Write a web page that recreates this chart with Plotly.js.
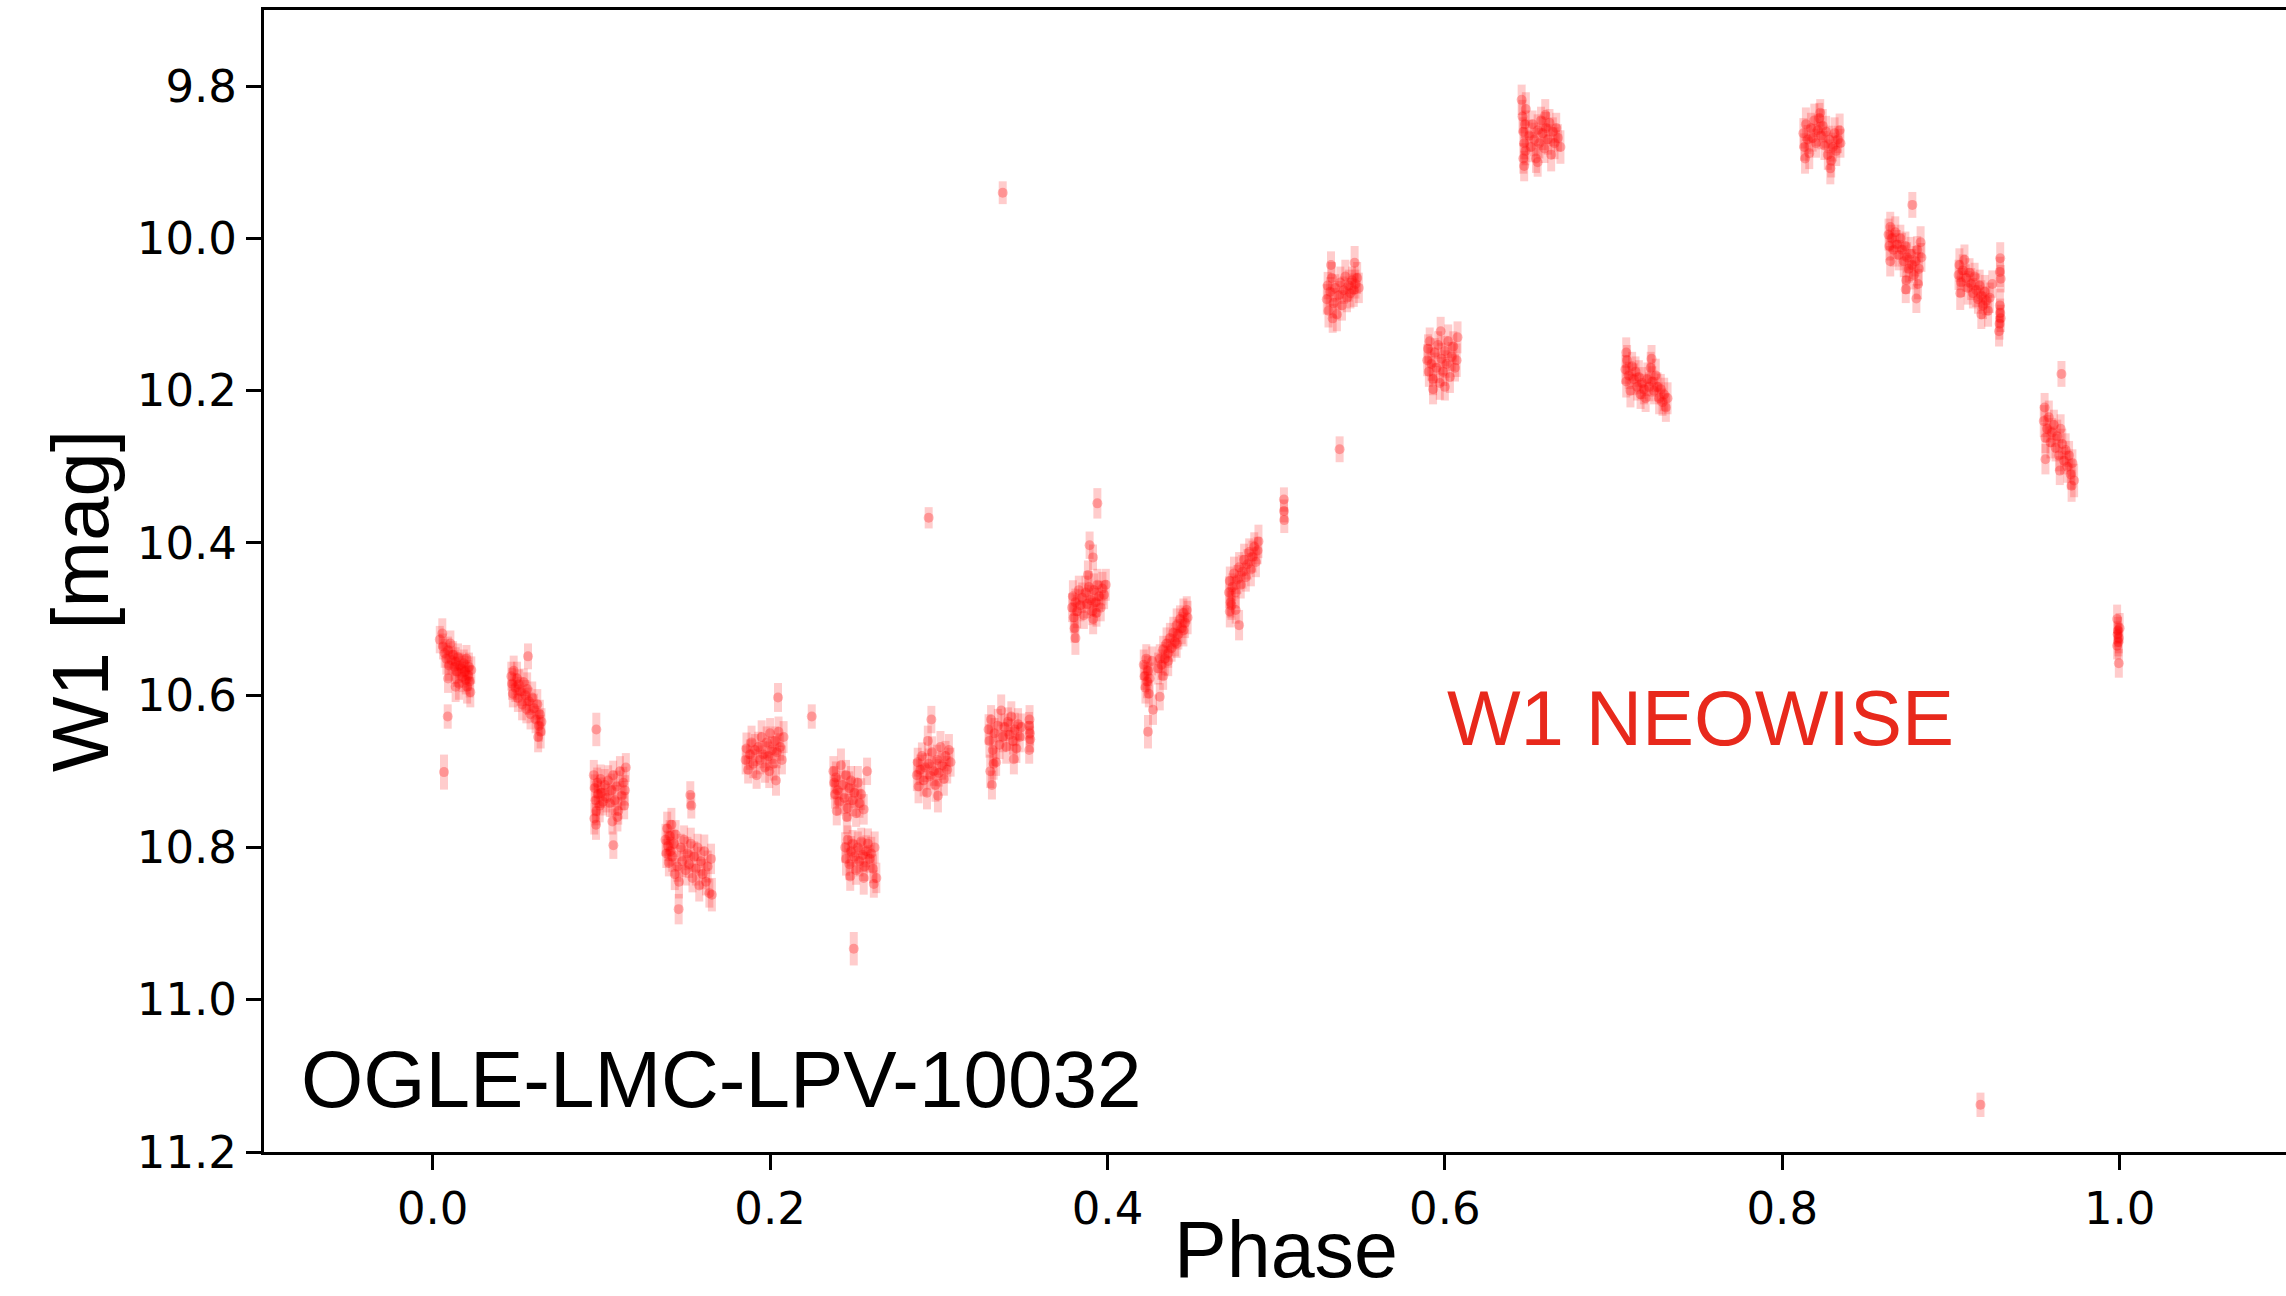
<!DOCTYPE html>
<html>
<head>
<meta charset="utf-8">
<script src="https://cdn.plot.ly/plotly-3.0.1.min.js"></script>
<style>html,body{margin:0;padding:0;background:#fff;}#chart{width:2286px;height:1296px;}</style>
</head>
<body>
<div id="chart"></div>
<script>
// Phase-folded NEOWISE W1 light curve of OGLE-LMC-LPV-10032
const phase = [
  // visit 1
  0.0042,0.0057,0.0061,0.0071,0.0081,0.0091,0.0097,0.0105,0.0111,0.0121,0.0130,0.0136,0.0144,0.0150,0.0156,0.0160,0.0170,0.0176,0.0184,0.0190,0.0196,0.0200,0.0204,0.0210,0.0215,0.0219,0.0223,0.0229,0.0091,0.0136,0.0089,0.0067,
  // visit 2
  0.0466,0.0470,0.0475,0.0480,0.0490,0.0500,0.0505,0.0510,0.0520,0.0530,0.0540,0.0550,0.0555,0.0560,0.0570,0.0580,0.0590,0.0600,0.0610,0.0620,0.0630,0.0635,0.0640,0.0645,0.0625,0.0565,
  // visit 3
  0.0955,0.0960,0.0965,0.0970,0.0975,0.0980,0.0990,0.0995,0.1000,0.1010,0.1020,0.1030,0.1040,0.1050,0.1060,0.1070,0.1080,0.1090,0.1100,0.1110,0.1120,0.1130,0.1135,0.1140,0.1145,0.0958,0.0968,0.1095,0.0970,0.1065,0.1071,
  // visit 4
  0.1380,0.1385,0.1390,0.1395,0.1400,0.1405,0.1410,0.1415,0.1420,0.1430,0.1435,0.1440,0.1450,0.1460,0.1470,0.1480,0.1490,0.1500,0.1510,0.1520,0.1530,0.1540,0.1550,0.1560,0.1570,0.1580,0.1590,0.1600,0.1610,0.1620,0.1630,0.1640,0.1650,0.1655,0.1527,0.1533,0.1458,
  // visit 5
  0.1855,0.1860,0.1870,0.1880,0.1890,0.1900,0.1910,0.1920,0.1930,0.1940,0.1950,0.1960,0.1970,0.1980,0.1990,0.2000,0.2010,0.2020,0.2030,0.2040,0.2050,0.2060,0.2070,0.2080,0.2035,0.1995,0.2047,0.2247,
  // visit 6 (two groups)
  0.2375,0.2380,0.2385,0.2390,0.2400,0.2410,0.2420,0.2430,0.2440,0.2450,0.2460,0.2470,0.2480,0.2490,0.2500,0.2510,0.2520,0.2530,0.2540,0.2555,0.2575,0.2455,0.2395,
  0.2445,0.2450,0.2460,0.2470,0.2480,0.2490,0.2500,0.2510,0.2520,0.2530,0.2540,0.2550,0.2560,0.2570,0.2580,0.2590,0.2600,0.2610,0.2620,0.2630,0.2615,0.2555,0.2475,0.2496,
  // visit 7
  0.2870,0.2875,0.2880,0.2890,0.2900,0.2910,0.2920,0.2930,0.2940,0.2950,0.2960,0.2970,0.2980,0.2990,0.3000,0.3010,0.3020,0.3030,0.3040,0.3050,0.3060,0.3070,0.2995,0.2935,0.2956,0.2940,
  // visit 8
  0.3295,0.3300,0.3310,0.3320,0.3330,0.3340,0.3350,0.3360,0.3370,0.3380,0.3390,0.3400,0.3410,0.3420,0.3430,0.3440,0.3450,0.3460,0.3470,0.3480,0.3490,0.3305,0.3315,0.3325,0.3445,0.3535,0.3540,0.3538,0.3542,0.3536,0.3379,
  // visit 9
  0.3790,0.3795,0.3800,0.3810,0.3820,0.3830,0.3840,0.3850,0.3860,0.3870,0.3880,0.3890,0.3900,0.3910,0.3920,0.3930,0.3940,0.3950,0.3960,0.3970,0.3980,0.3990,0.3915,0.3935,0.3810,0.3805,0.3940,0.3894,0.3914,0.3884,
  // visit 10
  0.4215,0.4220,0.4225,0.4230,0.4235,0.4240,0.4245,0.4250,0.4265,0.4240,0.4270,0.4310,
  0.4300,0.4310,0.4320,0.4330,0.4340,0.4350,0.4360,0.4370,0.4380,0.4390,0.4400,0.4410,0.4420,0.4430,0.4440,0.4450,0.4460,0.4470,0.4475,0.4450,0.4410,0.4360,0.4330,
  // visit 11
  0.4720,0.4725,0.4730,0.4740,0.4750,0.4760,0.4770,0.4780,0.4790,0.4800,0.4810,0.4820,0.4830,0.4840,0.4850,0.4860,0.4870,0.4880,0.4890,0.4895,0.4725,0.4735,0.4780,0.4760,0.5046,0.5046,0.5048,
  // visit 12
  0.5300,0.5305,0.5310,0.5320,0.5330,0.5340,0.5350,0.5360,0.5370,0.5380,0.5390,0.5400,0.5410,0.5420,0.5430,0.5440,0.5450,0.5460,0.5470,0.5480,0.5490,0.5325,0.5465,0.5335,0.5376,
  // visit 13
  0.5895,0.5900,0.5905,0.5910,0.5920,0.5930,0.5940,0.5950,0.5960,0.5970,0.5980,0.5990,0.6000,0.6010,0.6020,0.6030,0.6040,0.6050,0.6060,0.6070,0.6075,0.5975,0.5930,0.6000,
  // visit 14
  0.6455,0.6460,0.6465,0.6470,0.6465,0.6475,0.6480,0.6478,0.6500,0.6510,0.6520,0.6530,0.6540,0.6550,0.6560,0.6570,0.6580,0.6590,0.6600,0.6610,0.6620,0.6630,0.6640,0.6650,0.6660,0.6670,0.6685,0.6550,0.6595,0.6470,
  // visit 15
  0.7070,0.7075,0.7080,0.7090,0.7100,0.7110,0.7120,0.7130,0.7140,0.7150,0.7160,0.7170,0.7180,0.7190,0.7200,0.7210,0.7220,0.7230,0.7240,0.7250,0.7260,0.7270,0.7280,0.7290,0.7300,0.7310,0.7320,0.7075,0.7225,
  // visit 16
  0.8125,0.8130,0.8140,0.8150,0.8160,0.8170,0.8180,0.8190,0.8200,0.8210,0.8220,0.8230,0.8240,0.8250,0.8260,0.8270,0.8280,0.8290,0.8300,0.8310,0.8320,0.8330,0.8340,0.8345,0.8285,0.8135,0.8225,
  // visit 17
  0.8630,0.8635,0.8640,0.8650,0.8660,0.8670,0.8680,0.8690,0.8700,0.8710,0.8720,0.8730,0.8740,0.8750,0.8760,0.8770,0.8780,0.8790,0.8800,0.8810,0.8820,0.8825,0.8640,0.8735,0.8771,0.8795,0.8732,0.8805,
  // visit 18
  0.9045,0.9050,0.9060,0.9070,0.9080,0.9090,0.9100,0.9110,0.9120,0.9130,0.9140,0.9150,0.9160,0.9170,0.9180,0.9190,0.9200,0.9210,0.9220,0.9230,0.9245,0.9055,0.9180,0.9292,0.9290,0.9295,0.9290,0.9292,0.9288,0.9285,0.9295,
  // visit 19
  0.9550,0.9555,0.9560,0.9570,0.9580,0.9590,0.9600,0.9610,0.9620,0.9630,0.9640,0.9650,0.9660,0.9670,0.9680,0.9690,0.9700,0.9710,0.9720,0.9730,0.9715,0.9645,0.9560,0.9655,
  // visit 20
  0.9985,0.9990,0.9995,0.9988,0.9992,0.9985,1.0000,0.9995,0.9175
];

const w1 = [
  10.527,10.519,10.536,10.545,10.552,10.541,10.561,10.532,10.554,10.547,10.563,10.556,10.569,10.550,10.585,10.561,10.565,10.576,10.558,10.569,10.580,10.552,10.589,10.574,10.563,10.582,10.596,10.567,10.578,10.589,10.628,10.701,
  10.575,10.585,10.598,10.568,10.590,10.578,10.604,10.586,10.595,10.612,10.583,10.600,10.618,10.592,10.608,10.625,10.603,10.617,10.632,10.612,10.640,10.625,10.648,10.635,10.655,10.549,
  10.705,10.722,10.738,10.752,10.715,10.730,10.745,10.710,10.728,10.740,10.718,10.735,10.712,10.742,10.725,10.705,10.738,10.720,10.752,10.700,10.732,10.715,10.745,10.725,10.695,10.762,10.770,10.760,10.645,10.766,10.797,
  10.790,10.808,10.775,10.798,10.820,10.785,10.805,10.770,10.812,10.795,10.835,10.783,10.825,10.845,10.800,10.818,10.790,10.830,10.808,10.822,10.795,10.840,10.812,10.828,10.800,10.850,10.818,10.835,10.805,10.845,10.825,10.860,10.815,10.862,10.731,10.745,10.881,
  10.685,10.670,10.698,10.678,10.662,10.690,10.672,10.705,10.668,10.685,10.655,10.678,10.695,10.662,10.680,10.650,10.672,10.690,10.660,10.675,10.648,10.668,10.685,10.655,10.712,10.700,10.603,10.628,
  10.700,10.715,10.730,10.708,10.725,10.740,10.692,10.718,10.735,10.705,10.748,10.722,10.712,10.738,10.728,10.755,10.715,10.742,10.730,10.750,10.700,10.760,10.752,
  10.800,10.815,10.790,10.822,10.805,10.795,10.812,10.830,10.800,10.818,10.792,10.810,10.825,10.805,10.795,10.815,10.808,10.828,10.800,10.840,10.848,10.840,10.838,10.933,
  10.705,10.688,10.720,10.698,10.680,10.712,10.695,10.728,10.690,10.706,10.675,10.700,10.718,10.685,10.702,10.668,10.692,10.710,10.680,10.698,10.672,10.688,10.732,10.660,10.632,10.367,
  10.645,10.660,10.632,10.672,10.650,10.688,10.640,10.665,10.620,10.655,10.642,10.668,10.635,10.652,10.628,10.660,10.645,10.670,10.638,10.655,10.642,10.700,10.718,10.690,10.684,10.640,10.650,10.632,10.658,10.672,9.940,
  10.485,10.470,10.498,10.478,10.490,10.462,10.482,10.472,10.495,10.465,10.480,10.458,10.475,10.490,10.462,10.478,10.455,10.470,10.485,10.460,10.468,10.455,10.500,10.492,10.525,10.512,10.348,10.403,10.419,10.442,
  10.560,10.575,10.590,10.552,10.582,10.568,10.598,10.578,10.555,10.648,10.619,10.602,
  10.565,10.552,10.560,10.540,10.552,10.532,10.545,10.525,10.538,10.518,10.530,10.508,10.520,10.500,10.512,10.492,10.505,10.488,10.498,10.515,10.532,10.555,10.575,
  10.465,10.450,10.478,10.458,10.440,10.465,10.448,10.432,10.455,10.438,10.422,10.445,10.428,10.412,10.435,10.418,10.405,10.425,10.410,10.398,10.490,10.482,10.508,10.488,10.343,10.358,10.370,
  10.080,10.062,10.095,10.070,10.052,10.085,10.065,10.100,10.075,10.058,10.088,10.068,10.050,10.078,10.062,10.072,10.055,10.068,10.060,10.052,10.065,10.035,10.032,10.105,10.277,
  10.160,10.145,10.175,10.135,10.165,10.185,10.150,10.170,10.140,10.190,10.158,10.175,10.148,10.165,10.135,10.182,10.155,10.142,10.170,10.160,10.130,10.122,10.198,10.195,
  9.818,9.840,9.860,9.875,9.895,9.850,9.830,9.885,9.865,9.880,9.850,9.870,9.895,9.858,9.875,9.845,9.862,9.882,9.855,9.870,9.848,9.890,9.860,9.875,9.855,9.868,9.880,9.900,9.838,9.905,
  10.172,10.188,10.160,10.180,10.200,10.168,10.185,10.175,10.195,10.182,10.205,10.190,10.198,10.210,10.185,10.195,10.170,10.188,10.200,10.180,10.195,10.210,10.198,10.215,10.205,10.222,10.210,10.150,10.158,
  9.862,9.880,9.850,9.870,9.888,9.855,9.868,9.845,9.875,9.858,9.842,9.865,9.852,9.878,9.860,9.890,9.870,9.898,9.880,9.862,9.885,9.870,9.858,9.875,9.908,9.895,9.835,
  9.995,10.010,9.985,10.000,10.015,9.992,10.008,10.022,10.000,10.015,10.030,10.010,10.025,10.040,10.020,10.035,10.048,10.030,10.015,10.040,10.005,10.025,10.030,10.055,9.956,10.079,10.067,10.060,
  10.048,10.035,10.058,10.042,10.028,10.052,10.065,10.045,10.060,10.072,10.050,10.068,10.080,10.062,10.075,10.088,10.070,10.082,10.095,10.078,10.060,10.072,10.100,10.026,10.044,10.053,10.088,10.098,10.112,10.122,10.105,
  10.240,10.222,10.262,10.250,10.235,10.268,10.255,10.245,10.275,10.260,10.285,10.250,10.270,10.292,10.278,10.300,10.285,10.310,10.295,10.318,10.325,10.305,10.290,10.178,
  10.500,10.515,10.525,10.520,10.530,10.535,10.512,10.558,11.138
];

const w1err = [
  0.018,0.020,0.017,0.019,0.021,0.018,0.020,0.017,0.019,0.018,0.022,0.019,0.020,0.018,0.021,0.017,0.019,0.020,0.018,0.021,0.019,0.018,0.022,0.020,0.019,0.021,0.020,0.018,0.019,0.020,0.016,0.023,
  0.019,0.021,0.018,0.020,0.019,0.022,0.018,0.020,0.019,0.021,0.018,0.020,0.019,0.022,0.018,0.020,0.021,0.019,0.018,0.020,0.021,0.019,0.022,0.018,0.020,0.017,
  0.020,0.018,0.021,0.019,0.020,0.018,0.022,0.019,0.020,0.018,0.021,0.019,0.020,0.018,0.022,0.019,0.020,0.021,0.018,0.020,0.019,0.021,0.018,0.020,0.019,0.021,0.020,0.019,0.022,0.017,0.018,
  0.021,0.019,0.022,0.020,0.018,0.021,0.019,0.022,0.020,0.018,0.021,0.019,0.020,0.022,0.018,0.021,0.019,0.020,0.022,0.018,0.021,0.019,0.020,0.022,0.018,0.021,0.019,0.020,0.022,0.018,0.021,0.019,0.020,0.022,0.018,0.017,0.020,
  0.019,0.021,0.018,0.020,0.022,0.019,0.021,0.018,0.020,0.019,0.022,0.018,0.020,0.021,0.019,0.020,0.018,0.022,0.019,0.021,0.020,0.018,0.019,0.021,0.020,0.022,0.019,0.016,
  0.020,0.022,0.019,0.021,0.020,0.018,0.022,0.019,0.021,0.020,0.018,0.022,0.019,0.021,0.020,0.018,0.022,0.019,0.021,0.020,0.018,0.022,0.019,
  0.020,0.022,0.019,0.021,0.020,0.018,0.022,0.019,0.021,0.020,0.018,0.022,0.019,0.021,0.020,0.018,0.022,0.019,0.021,0.020,0.018,0.022,0.019,0.022,
  0.021,0.019,0.022,0.020,0.018,0.021,0.019,0.022,0.020,0.018,0.021,0.019,0.022,0.020,0.018,0.021,0.019,0.022,0.020,0.018,0.021,0.019,0.022,0.020,0.018,0.014,
  0.020,0.022,0.019,0.021,0.020,0.018,0.022,0.019,0.021,0.020,0.018,0.022,0.019,0.021,0.020,0.018,0.022,0.019,0.021,0.020,0.018,0.022,0.019,0.021,0.020,0.018,0.016,0.019,0.017,0.018,0.015,
  0.019,0.021,0.020,0.018,0.022,0.019,0.021,0.020,0.018,0.022,0.019,0.021,0.020,0.018,0.022,0.019,0.021,0.020,0.018,0.022,0.019,0.021,0.020,0.018,0.022,0.019,0.020,0.018,0.017,0.019,
  0.020,0.018,0.021,0.019,0.022,0.020,0.018,0.021,0.019,0.022,0.020,0.018,
  0.021,0.019,0.020,0.018,0.022,0.021,0.019,0.020,0.018,0.021,0.019,0.022,0.020,0.018,0.021,0.019,0.020,0.018,0.022,0.021,0.019,0.020,0.018,
  0.021,0.019,0.020,0.018,0.022,0.021,0.019,0.020,0.018,0.022,0.021,0.019,0.020,0.018,0.022,0.021,0.019,0.020,0.018,0.022,0.021,0.019,0.020,0.018,0.016,0.015,0.017,
  0.020,0.018,0.022,0.019,0.021,0.020,0.018,0.022,0.019,0.021,0.020,0.018,0.022,0.019,0.021,0.020,0.018,0.022,0.019,0.021,0.020,0.018,0.022,0.019,0.017,
  0.021,0.019,0.020,0.018,0.022,0.021,0.019,0.020,0.018,0.022,0.021,0.019,0.020,0.018,0.022,0.021,0.019,0.020,0.018,0.022,0.021,0.019,0.020,0.018,
  0.020,0.022,0.019,0.021,0.020,0.018,0.022,0.019,0.021,0.020,0.018,0.022,0.019,0.021,0.020,0.018,0.022,0.019,0.021,0.020,0.018,0.022,0.019,0.021,0.020,0.018,0.022,0.019,0.021,0.020,
  0.019,0.021,0.020,0.018,0.022,0.019,0.021,0.020,0.018,0.022,0.019,0.021,0.020,0.018,0.022,0.019,0.021,0.020,0.018,0.022,0.019,0.021,0.020,0.018,0.022,0.019,0.021,0.020,0.018,
  0.020,0.018,0.022,0.019,0.021,0.020,0.018,0.022,0.019,0.021,0.020,0.018,0.022,0.019,0.021,0.020,0.018,0.022,0.019,0.021,0.020,0.018,0.022,0.019,0.021,0.020,0.018,
  0.021,0.019,0.020,0.018,0.022,0.021,0.019,0.020,0.018,0.022,0.021,0.019,0.020,0.018,0.022,0.021,0.019,0.020,0.018,0.022,0.021,0.019,0.020,0.018,0.017,0.019,0.018,0.020,
  0.020,0.022,0.019,0.021,0.020,0.018,0.022,0.019,0.021,0.020,0.018,0.022,0.019,0.021,0.020,0.018,0.022,0.019,0.021,0.020,0.018,0.022,0.019,0.021,0.020,0.018,0.022,0.019,0.021,0.020,0.018,
  0.021,0.019,0.020,0.018,0.022,0.021,0.019,0.020,0.018,0.022,0.021,0.019,0.020,0.018,0.022,0.021,0.019,0.020,0.018,0.022,0.021,0.019,0.020,0.017,
  0.019,0.018,0.020,0.017,0.019,0.018,0.020,0.019,0.016
];

const xTickVals = [0.0, 0.2, 0.4, 0.6, 0.8, 1.0];
const xTickText = ['0.0', '0.2', '0.4', '0.6', '0.8', '1.0'];
const yTickVals = [9.8, 10.0, 10.2, 10.4, 10.6, 10.8, 11.0, 11.2];
const yTickText = ['9.8', '10.0', '10.2', '10.4', '10.6', '10.8', '11.0', '11.2'];

const xTitle = 'Phase';
const yTitle = 'W1 [mag]';
const starName = 'OGLE-LMC-LPV-10032';
const bandLabel = 'W1 NEOWISE';

if (phase.length !== w1.length || w1.length !== w1err.length) {
  throw new Error('length mismatch: phase=' + phase.length + ' w1=' + w1.length + ' err=' + w1err.length);
}

const trace = {
  type: 'scatter',
  mode: 'markers',
  x: phase,
  y: w1,
  marker: { color: 'rgba(255,0,0,0.28)', size: 10, line: { width: 0 } },
  error_y: { type: 'data', array: w1err, visible: true, color: 'rgba(255,0,0,0.2)', thickness: 8, width: 0 },
  showlegend: false,
  hoverinfo: 'skip'
};

const axisCommon = {
  showline: true, linecolor: 'black', linewidth: 3,
  ticks: 'outside', ticklen: 15, tickwidth: 3, tickcolor: 'black',
  showgrid: false, zeroline: false, automargin: false,
  tickfont: { family: 'DejaVu Sans', size: 45, color: 'black' }
};

const titleFont = { family: 'Liberation Sans', size: 79, color: 'black' };

const layout = {
  width: 2286, height: 1296,
  margin: { l: 264, r: 0, t: 10, b: 144 },
  paper_bgcolor: 'white', plot_bgcolor: 'white',
  xaxis: Object.assign({}, axisCommon, {
    range: [-0.1, 1.0986], mirror: true,
    tickmode: 'array', tickvals: xTickVals, ticktext: xTickText
  }),
  yaxis: Object.assign({}, axisCommon, {
    range: [11.2, 9.7], mirror: false,
    tickmode: 'array', tickvals: yTickVals, ticktext: yTickText
  }),
  annotations: [
    // axis titles
    { xref: 'paper', yref: 'paper', x: 0.5055, y: -0.0855, xanchor: 'center', yanchor: 'middle', showarrow: false,
      text: xTitle, font: titleFont },
    { xref: 'paper', yref: 'paper', x: -0.0905, y: 0.4825, xanchor: 'center', yanchor: 'middle', showarrow: false,
      textangle: -90, text: yTitle, font: Object.assign({}, titleFont, { size: 80 }) },
    // in-plot labels
    { xref: 'x', yref: 'y', x: 0.6, y: 10.63, xanchor: 'left', yanchor: 'middle', showarrow: false,
      text: bandLabel, font: { family: 'Liberation Sans', size: 78, color: '#e8291c' } },
    { xref: 'x', yref: 'y', x: -0.079, y: 11.105, xanchor: 'left', yanchor: 'middle', showarrow: false,
      text: starName, font: { family: 'Liberation Sans', size: 80, color: 'black' } }
  ]
};

Plotly.newPlot('chart', [trace], layout, { displayModeBar: false, staticPlot: true });
</script>
</body>
</html>
